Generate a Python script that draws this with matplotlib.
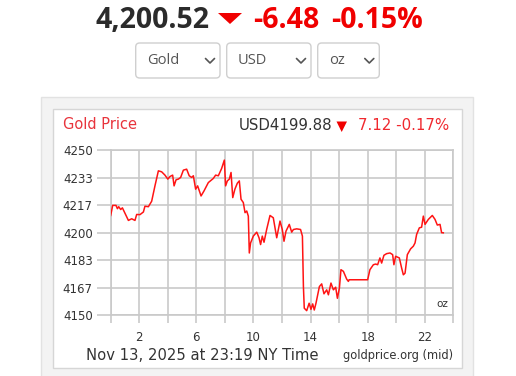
import matplotlib
matplotlib.use('Agg')
import matplotlib.pyplot as plt
from matplotlib.patches import FancyBboxPatch, Rectangle

# ── data (hours since midnight NY, USD/oz) ───────────────────
hours = [0.00, 0.14, 0.37, 0.47, 0.56, 0.70, 0.82, 1.00, 1.24, 1.47, 1.70, 1.82,
         2.05, 2.29, 2.40, 2.64, 2.87, 3.10, 3.34, 3.57, 3.80, 4.00, 4.16, 4.34,
         4.44, 4.58, 4.74, 4.90, 5.09, 5.32, 5.50, 5.67, 5.79, 5.95, 6.09, 6.33,
         6.54, 6.84, 7.07, 7.19, 7.35, 7.54, 7.77, 7.96, 8.05, 8.17, 8.31, 8.43,
         8.55, 8.70, 8.87, 9.01, 9.13, 9.29, 9.41, 9.53, 9.64, 9.71, 9.80, 9.99,
         10.23, 10.39, 10.50, 10.62, 10.74, 10.93, 11.16, 11.39, 11.63, 11.86,
         12.02, 12.14, 12.28, 12.51, 12.68, 12.80, 13.03, 13.30, 13.43, 13.50,
         13.56, 13.73, 13.90, 14.03, 14.15, 14.26, 14.38, 14.62, 14.78, 14.94,
         15.13, 15.25, 15.43, 15.60, 15.76, 15.88, 16.02, 16.13, 16.30, 16.53,
         16.65, 16.70, 18.00, 18.16, 18.40, 18.56, 18.70, 18.86, 18.98, 19.14,
         19.33, 19.57, 19.75, 19.84, 19.96, 20.22, 20.38, 20.50, 20.62, 20.78,
         21.01, 21.20, 21.32, 21.43, 21.62, 21.78, 21.90, 22.02, 22.25, 22.37,
         22.53, 22.72, 22.88, 23.07, 23.18, 23.30]
prices = [4210.4, 4216.5, 4216.5, 4214.5, 4215.7, 4214.0, 4215.0, 4211.7, 4207.4,
          4208.4, 4207.4, 4211.0, 4210.9, 4212.5, 4216.0, 4215.7, 4219.0, 4228.3,
          4237.4, 4236.8, 4234.8, 4232.4, 4234.0, 4234.8, 4228.3, 4232.0, 4232.4,
          4233.4, 4237.8, 4238.4, 4234.4, 4233.4, 4234.4, 4226.3, 4228.3, 4222.2,
          4225.3, 4230.3, 4232.0, 4232.8, 4234.8, 4234.4, 4238.8, 4243.9, 4228.3,
          4231.3, 4232.4, 4236.4, 4221.2, 4226.3, 4229.9, 4231.3, 4220.2, 4218.2,
          4212.1, 4213.1, 4210.0, 4187.7, 4193.8, 4197.9, 4200.3, 4196.9, 4192.8,
          4197.9, 4194.2, 4202.1, 4210.4, 4209.0, 4196.9, 4207.0, 4201.9, 4194.8,
          4200.9, 4205.0, 4200.3, 4201.9, 4202.3, 4201.9, 4197.9, 4167.4, 4154.3,
          4152.8, 4157.3, 4153.6, 4156.9, 4153.2, 4157.3, 4167.4, 4169.0, 4163.0,
          4165.4, 4162.4, 4169.5, 4165.4, 4167.0, 4160.3, 4166.4, 4177.6, 4176.6,
          4171.9, 4170.5, 4171.5, 4171.5, 4177.6, 4180.6, 4181.0, 4180.6, 4184.7,
          4181.6, 4186.3, 4187.3, 4187.7, 4186.7, 4180.6, 4185.7, 4184.7, 4178.6,
          4174.5, 4175.5, 4186.7, 4190.2, 4191.8, 4193.8, 4198.9, 4202.9, 4203.3,
          4210.0, 4205.0, 4208.0, 4209.0, 4210.4, 4208.0, 4204.6, 4205.0, 4200.0,
          4199.9]

y_ticks = [4150 + k * 50 / 3 for k in range(7)]
x_ticks = list(range(0, 25, 2))
x_labels = ['2', '6', '10', '14', '18', '22']

price_now = '4,200.52'
chg_now = '-6.48'
pct_now = '-0.15%'
menus = ['Gold', 'USD', 'oz']

RED = '#f00000'
GRID = '#c9c9c9'
DARK = '#333333'

W, H = 516, 376
fig = plt.figure(figsize=(W / 100, H / 100), dpi=100)
fig.patch.set_facecolor('white')

# ── overlay in pixel coordinates for page chrome ─────────────
bg = fig.add_axes([0, 0, 1, 1], zorder=0)
bg.set_xlim(0, W)
bg.set_ylim(H, 0)
bg.axis('off')

big = dict(family='Open Sans', fontweight='bold', fontsize=20.5, va='center')
bg.text(95, 21, price_now, color='#2b2b2b', ha='left', **big)
bg.fill([218, 242, 230], [13, 13, 24], color=RED, lw=0)
bg.text(253, 21, chg_now, color=RED, ha='left', **big)
bg.text(331, 21, pct_now, color=RED, ha='left', **big)

boxes = [(135.7, 220.0), (226.7, 311.0), (317.7, 379.3)]
for (x0, x1), lab in zip(boxes, menus):
    bg.add_patch(FancyBboxPatch((x0, 43), x1 - x0, 35,
                                boxstyle='round,pad=0,rounding_size=4',
                                fc='white', ec='#cfcfcf', lw=1))
    bg.text(x0 + 11, 61, lab, family='Open Sans', fontsize=10.5,
            color='#555555', ha='left', va='center')
    cx = x1 - 10
    bg.plot([cx - 4.5, cx, cx + 4.5], [58.5, 63, 58.5], color='#555555', lw=1.2,
            solid_capstyle='round', solid_joinstyle='round')

# chart panel
bg.add_patch(Rectangle((40.7, 97), 432.6, 290, fc='#f3f3f3', ec='#e2e2e2', lw=1))
bg.add_patch(Rectangle((52.7, 109.3), 409, 259, fc='white', ec='#d6d6d6', lw=1))

bg.text(63, 124.5, 'Gold Price', color='#e8343c', fontsize=10.5,
        ha='left', va='center')
bg.text(332, 126, 'USD4199.88', color=DARK, fontsize=10.8,
        ha='right', va='center')
bg.fill([336.5, 347, 341.7], [121.5, 121.5, 132], color=RED, lw=0)
bg.text(449.5, 126, '7.12 -0.17%', color='#f0282e', fontsize=10.8,
        ha='right', va='center')

bg.text(86, 355, 'Nov 13, 2025 at 23:19 NY Time', color=DARK, fontsize=10.6,
        ha='left', va='center')
bg.text(452.7, 356, 'goldprice.org (mid)', color=DARK, fontsize=8.3,
        ha='right', va='center')

# ── price chart ──────────────────────────────────────────────
left, right = 110.7 / W, 453.3 / W
bottom, top = (H - 315.3) / H, (H - 150.0) / H
ax = fig.add_axes([left, bottom, right - left, top - bottom], zorder=1)
ax.set_facecolor('white')
ax.plot(hours, prices, color='#ff1414', lw=1.1, zorder=3)

ax.set_xlim(0, 24)
ax.set_ylim(4150, 4250)
ax.set_xticks(x_ticks)
ax.set_xticklabels([str(h) if str(h) in x_labels else '' for h in x_ticks])
ax.set_yticks(y_ticks)
ax.set_yticklabels([f'{v:.0f}' for v in y_ticks])
ax.tick_params(axis='x', length=6, width=1.2, color=GRID, pad=5,
               labelsize=8.5, labelcolor=DARK)
ax.tick_params(axis='y', length=10, width=1.2, color=GRID, pad=3,
               labelsize=8.5, labelcolor=DARK)
ax.grid(True, color=GRID, lw=1.2)
ax.set_axisbelow(True)
for s in ax.spines.values():
    s.set_color(GRID)
    s.set_linewidth(1.2)
ax.text(0.985, 0.04, 'oz', transform=ax.transAxes, fontsize=7.5,
        color=DARK, ha='right', va='bottom')

fig.savefig('out.png', dpi=100, facecolor='white')
